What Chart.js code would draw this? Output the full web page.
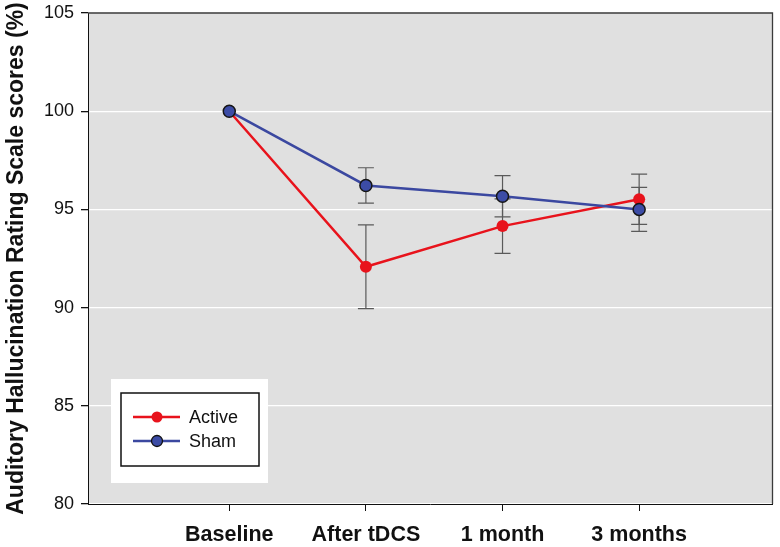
<!DOCTYPE html>
<html>
<head>
<meta charset="utf-8">
<script src="https://cdn.jsdelivr.net/npm/chart.js@4"></script>
<style>
  body { margin: 0; background: #fff; }
  canvas { display: block; }
</style>
</head>
<body>
<canvas id="chart" width="780" height="547"></canvas>
<script>
// data
const timepoints = ['Baseline', 'After tDCS', '1 month', '3 months'];
const activeMean = [100, 92.08, 94.15, 95.52];
const activeErr = [0, 2.13, 1.39, 1.28];
const shamMean = [100, 96.22, 95.67, 95.0];
const shamErr = [0, 0.9, 1.05, 1.12];
const yTicks = [80, 85, 90, 95, 100, 105];

const FONT = '"Liberation Sans", Arial, sans-serif';
const RED = '#e8131c';
const BLUE = '#3b48a0';

const toPoints = arr => arr.map((v, i) => ({ x: i + 1, y: v }));

// gray plot background with a thin dark frame on top/right
const plotBg = {
    id: 'plotBg',
    beforeDraw(chart) {
        const { ctx, chartArea: a } = chart;
        ctx.save();
        ctx.fillStyle = '#e0e0e0';
        ctx.fillRect(a.left, a.top, a.right - a.left, a.bottom - a.top);
        ctx.restore();
    },
    afterDraw(chart) {
        const { ctx, chartArea: a } = chart;
        ctx.save();
        ctx.strokeStyle = '#3a3a3a';
        ctx.lineWidth = 1.3;
        ctx.beginPath();
        ctx.moveTo(a.left, a.top); ctx.lineTo(a.right, a.top); ctx.lineTo(a.right, a.bottom);
        ctx.stroke();
        ctx.restore();
    }
};

// error bars behind the markers
const errorBars = {
    id: 'errorBars',
    beforeDatasetsDraw(chart) {
        const { ctx } = chart;
        const xs = chart.scales.x, ys = chart.scales.y;
        const sets = [[activeMean, activeErr], [shamMean, shamErr]];
        ctx.save();
        ctx.strokeStyle = '#5a5a5a';
        ctx.lineWidth = 1.2;
        sets.forEach(([mean, err]) => {
            mean.forEach((m, i) => {
                if (!err[i]) return;
                const x = xs.getPixelForValue(i + 1);
                const y1 = ys.getPixelForValue(m + err[i]);
                const y2 = ys.getPixelForValue(m - err[i]);
                ctx.beginPath();
                ctx.moveTo(x, y1); ctx.lineTo(x, y2);
                ctx.moveTo(x - 8, y1); ctx.lineTo(x + 8, y1);
                ctx.moveTo(x - 8, y2); ctx.lineTo(x + 8, y2);
                ctx.stroke();
            });
        });
        ctx.restore();
    }
};

// boxed legend, like the original
const boxLegend = {
    id: 'boxLegend',
    afterDraw(chart) {
        const { ctx } = chart;
        ctx.save();
        ctx.fillStyle = '#fff';
        ctx.fillRect(111, 379, 157, 104);
        ctx.strokeStyle = '#111';
        ctx.lineWidth = 1.5;
        ctx.strokeRect(121, 393, 138, 73);
        const items = [
            { label: 'Active', color: RED, fill: RED, border: null, y: 417 },
            { label: 'Sham', color: BLUE, fill: '#3c4ca6', border: '#111', y: 441 }
        ];
        items.forEach(it => {
            ctx.strokeStyle = it.color;
            ctx.lineWidth = 2.5;
            ctx.beginPath();
            ctx.moveTo(133, it.y); ctx.lineTo(180, it.y);
            ctx.stroke();
            ctx.beginPath();
            ctx.arc(157, it.y, 5.5, 0, Math.PI * 2);
            ctx.fillStyle = it.fill;
            ctx.fill();
            if (it.border) {
                ctx.strokeStyle = it.border;
                ctx.lineWidth = 1.3;
                ctx.stroke();
            }
            ctx.fillStyle = '#111';
            ctx.font = '18px ' + FONT;
            ctx.textBaseline = 'middle';
            ctx.fillText(it.label, 189, it.y + 1);
        });
        ctx.restore();
    }
};

new Chart(document.getElementById('chart'), {
    type: 'line',
    data: {
        datasets: [{
            label: 'Active',
            data: toPoints(activeMean),
            borderColor: RED,
            backgroundColor: RED,
            borderWidth: 2.5,
            pointRadius: 6,
            pointBorderWidth: 0,
            pointBackgroundColor: RED,
            order: 2,
            tension: 0
        }, {
            label: 'Sham',
            data: toPoints(shamMean),
            borderColor: BLUE,
            backgroundColor: BLUE,
            borderWidth: 2.5,
            pointRadius: 6,
            pointBorderWidth: 1.5,
            pointBorderColor: '#161616',
            pointBackgroundColor: '#3c4ca6',
            order: 1,
            tension: 0
        }]
    },
    options: {
        responsive: false,
        animation: false,
        layout: { padding: { top: 13, right: 5, left: 0, bottom: 0 } },
        plugins: { legend: { display: false }, tooltip: { enabled: false } },
        scales: {
            x: {
                type: 'linear',
                min: -0.034,
                max: 4.976,
                afterBuildTicks: s => { s.ticks = timepoints.map((t, i) => ({ value: i + 1 })); },
                afterFit: s => { s.height = 43; s.paddingLeft = 0; s.paddingRight = 0; },
                ticks: {
                    callback: v => timepoints[v - 1],
                    color: '#111',
                    font: { family: FONT, size: 21.5, weight: 'bold' },
                    padding: 11,
                    maxRotation: 0
                },
                grid: { drawOnChartArea: false, tickLength: 7, tickColor: '#111' },
                border: { color: '#111', width: 1 }
            },
            y: {
                min: 80,
                max: 105,
                afterBuildTicks: s => { s.ticks = yTicks.map(v => ({ value: v })); },
                afterFit: s => { s.width = 88; s.paddingTop = 0; s.paddingBottom = 0; },
                ticks: {
                    color: '#111',
                    font: { family: FONT, size: 18 },
                    padding: 7
                },
                grid: { color: '#fff', lineWidth: 1.3, tickLength: 7, tickColor: '#111' },
                border: { color: '#111', width: 1 },
                title: {
                    display: true,
                    text: 'Auditory Hallucination Rating Scale scores (%)',
                    color: '#111',
                    font: { family: FONT, size: 23, weight: 'bold' },
                    padding: { top: 3, bottom: 0 }
                }
            }
        }
    },
    plugins: [plotBg, errorBars, boxLegend]
});
</script>
</body>
</html>
